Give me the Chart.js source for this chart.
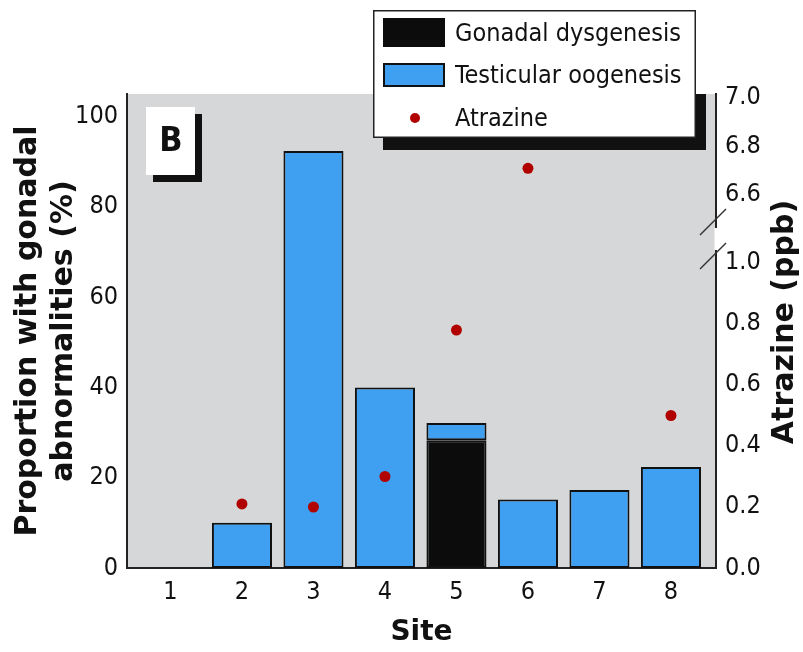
<!DOCTYPE html>
<html>
<head>
<meta charset="utf-8">
<script src="https://cdn.jsdelivr.net/npm/chart.js@4.4.1/dist/chart.umd.min.js"></script>
<style>
  html, body { margin: 0; padding: 0; background: #ffffff; }
  #wrap { width: 803px; height: 652px; }
</style>
</head>
<body>
<div id="wrap"><canvas id="c" width="803" height="652"></canvas></div>
<script>
// ---- data ----
const sites = [1, 2, 3, 4, 5, 6, 7, 8];
const siteLabels = ['1', '2', '3', '4', '5', '6', '7', '8'];
const gonadalDysgenesis = [0, 0, 0, 0, 28.3, 0, 0, 0];
const testicularOogenesis = [0, 10, 92.4, 40, 3.8, 15.2, 17.3, 22.4];
const atrazine = [null, 0.21, 0.20, 0.30, 0.78, 6.71, null, 0.50];
const leftTicks = [0, 20, 40, 60, 80, 100];
const rightTicks = [0, 0.2, 0.4, 0.6, 0.8, 1.0, 6.6, 6.8, 7.0];
const rightTickLabels = ['0.0', '0.2', '0.4', '0.6', '0.8', '1.0', '6.6', '6.8', '7.0'];
const legendLabels = ['Gonadal dysgenesis', 'Testicular oogenesis', 'Atrazine'];
const leftTitle = ['Proportion with gonadal', 'abnormalities (%)'];
const rightTitle = 'Atrazine (ppb)';
const xTitle = 'Site';
const panelLabel = 'B';

// broken right axis: values above the break are compressed onto the same linear scale
const BREAK_LOW = 1.0, BREAK_HIGH = 6.6, BREAK_OFFSET = 1.223, UPPER_FACTOR = 0.795;
function toAxis(v) {
  if (v === null) return null;
  return v <= BREAK_LOW ? v : BREAK_OFFSET + (v - BREAK_HIGH) * UPPER_FACTOR;
}

const NARROW = "'Liberation Sans Narrow', 'DejaVu Sans Condensed', 'Arial Narrow', sans-serif";
const BOLD = "'DejaVu Sans', 'Liberation Sans', sans-serif";
const GREY = '#d6d7d9';
const BLUE = '#3fa0f2';
const DARK = '#111111';
const RED = '#b00000';

const decor = {
  id: 'decor',
  beforeDraw(chart) {
    const { ctx, chartArea: a } = chart;
    ctx.save();
    ctx.fillStyle = '#ffffff';
    ctx.fillRect(0, 0, chart.width, chart.height);
    ctx.fillStyle = GREY;
    ctx.fillRect(a.left, a.top, a.right - a.left, a.bottom - a.top);
    ctx.restore();
  },
  afterDraw(chart) {
    const { ctx, chartArea: a } = chart;
    const y2 = chart.scales.y2;
    ctx.save();

    // axis break on the right axis
    const p1 = y2.getPixelForValue(toAxis(BREAK_LOW));
    const yb1 = p1 - 7, yb2 = p1 - 41;
    ctx.fillStyle = '#ffffff';
    ctx.fillRect(a.right - 1.5, yb2 + 6, 4, (yb1 - yb2) - 12);
    ctx.strokeStyle = '#333333';
    ctx.lineWidth = 1.5;
    [yb1, yb2].forEach(yc => {
      ctx.beginPath();
      ctx.moveTo(a.right - 16, yc + 13);
      ctx.lineTo(a.right + 10, yc - 13);
      ctx.stroke();
    });

    // shadows (visible only inside the plot area)
    ctx.save();
    ctx.beginPath();
    ctx.rect(a.left, a.top, a.right - a.left, a.bottom - a.top);
    ctx.clip();
    ctx.fillStyle = '#111';
    ctx.fillRect(153, 114, 49, 68);
    ctx.fillRect(383, 22, 323, 128);
    ctx.restore();

    // panel label "B"
    ctx.fillStyle = '#ffffff';
    ctx.fillRect(146, 107, 49, 68);
    ctx.fillStyle = '#111';
    ctx.font = 'bold 34px ' + NARROW;
    ctx.textAlign = 'center';
    ctx.textBaseline = 'middle';
    ctx.fillText(panelLabel, 171, 142);

    // legend
    ctx.fillStyle = '#ffffff';
    ctx.fillRect(373, 10, 323, 128);
    ctx.strokeStyle = '#222';
    ctx.lineWidth = 1.5;
    ctx.strokeRect(373.75, 10.75, 321.5, 126.5);
    const ds = chart.data.datasets;
    ctx.fillStyle = ds[0].backgroundColor;
    ctx.fillRect(383, 18, 62, 29);
    ctx.fillStyle = ds[1].backgroundColor;
    ctx.fillRect(383, 63, 62, 24);
    ctx.strokeStyle = DARK;
    ctx.lineWidth = 2;
    ctx.strokeRect(384, 64, 60, 22);
    ctx.fillStyle = ds[2].pointBackgroundColor;
    ctx.beginPath();
    ctx.arc(415, 118, 5, 0, Math.PI * 2);
    ctx.fill();
    ctx.fillStyle = '#111';
    ctx.font = '25px ' + NARROW;
    ctx.textAlign = 'left';
    ctx.textBaseline = 'middle';
    ctx.fillText(legendLabels[0], 455, 34);
    ctx.fillText(legendLabels[1], 455, 76);
    ctx.fillText(legendLabels[2], 455, 119);

    // right axis title (reads bottom to top)
    ctx.translate(785, 322);
    ctx.rotate(-Math.PI / 2);
    ctx.font = 'bold 30px ' + BOLD;
    ctx.textAlign = 'center';
    ctx.textBaseline = 'middle';
    ctx.fillText(rightTitle, 0, 0);
    ctx.restore();
  }
};

const tickFont = { family: NARROW, size: 25 };
const axisBorder = { display: true, color: '#222', width: 2 };

new Chart(document.getElementById('c'), {
  type: 'bar',
  data: {
    datasets: [
      {
        label: legendLabels[0],
        data: sites.map((s, i) => ({ x: s, y: gonadalDysgenesis[i] })),
        backgroundColor: '#0c0c0c',
        borderColor: DARK,
        borderWidth: 2,
        borderSkipped: false,
        barPercentage: 0.84,
        categoryPercentage: 1,
        yAxisID: 'y',
        order: 1
      },
      {
        label: legendLabels[1],
        data: sites.map((s, i) => ({ x: s, y: testicularOogenesis[i] })),
        backgroundColor: BLUE,
        borderColor: DARK,
        borderWidth: 2,
        borderSkipped: false,
        barPercentage: 0.84,
        categoryPercentage: 1,
        yAxisID: 'y',
        order: 2
      },
      {
        type: 'line',
        label: legendLabels[2],
        data: sites.map((s, i) => ({ x: s, y: toAxis(atrazine[i]) })),
        showLine: false,
        pointRadius: 5.5,
        pointBackgroundColor: RED,
        pointBorderColor: RED,
        pointBorderWidth: 0,
        yAxisID: 'y2',
        order: 0
      }
    ]
  },
  options: {
    responsive: false,
    animation: false,
    events: [],
    layout: { padding: { top: 94, left: 0, right: 0, bottom: 0 } },
    plugins: { legend: { display: false }, tooltip: { enabled: false } },
    scales: {
      x: {
        type: 'linear',
        offset: false,
        min: 0.392,
        max: 8.63,
        stacked: true,
        grid: { display: false, drawTicks: false, offset: false },
        border: axisBorder,
        afterBuildTicks: s => { s.ticks = sites.map(v => ({ value: v })); },
        afterFit: s => { s.height = 84; },
        ticks: {
          padding: 9,
          color: '#111',
          font: tickFont,
          autoSkip: false,
          maxRotation: 0,
          callback: v => siteLabels[sites.indexOf(v)]
        },
        title: {
          display: true,
          text: xTitle,
          color: '#111',
          font: { family: BOLD, size: 28, weight: 'bold' },
          padding: { top: 0, bottom: 2 }
        }
      },
      y: {
        position: 'left',
        min: 0,
        max: 105,
        stacked: true,
        grid: { display: false, drawTicks: false },
        border: axisBorder,
        afterBuildTicks: s => { s.ticks = leftTicks.map(v => ({ value: v })); },
        afterFit: s => { s.width = 127; },
        ticks: { padding: 9, color: '#111', font: tickFont },
        title: {
          display: true,
          text: leftTitle,
          color: '#111',
          font: { family: BOLD, size: 30, weight: 'bold', lineHeight: 1.2 },
          padding: { top: 10, bottom: 0 }
        }
      },
      y2: {
        position: 'right',
        min: 0,
        max: 1.554,
        grid: { display: false, drawTicks: false },
        border: axisBorder,
        afterBuildTicks: s => { s.ticks = rightTicks.map(v => ({ value: toAxis(v) })); },
        afterFit: s => { s.width = 87; },
        ticks: {
          padding: 9,
          color: '#111',
          font: tickFont,
          callback: (v, i) => rightTickLabels[i]
        }
      }
    }
  },
  plugins: [decor]
});
</script>
</body>
</html>
